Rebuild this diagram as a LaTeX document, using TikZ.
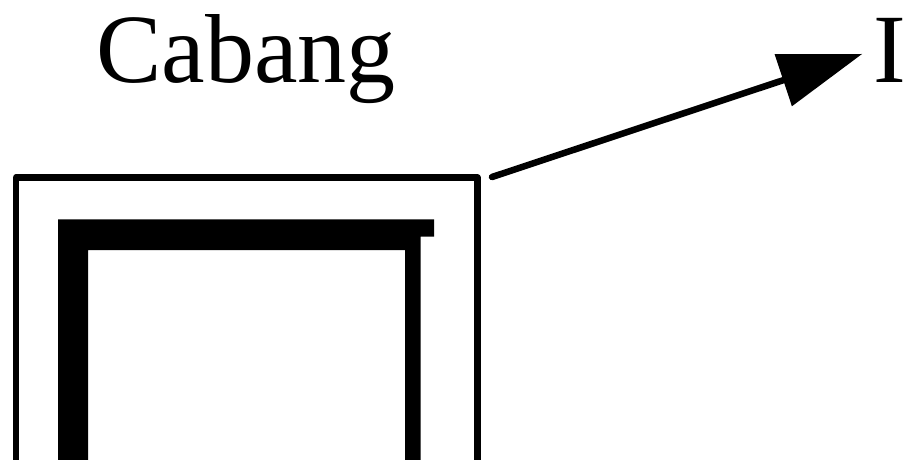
\documentclass[tikz,border=0pt]{standalone}
\usepackage{fontspec}
\setmainfont{Liberation Serif}
\usetikzlibrary{arrows.meta}
\tikzset{
  bigtext/.style={anchor=base west, inner sep=0pt, font=\fontsize{98}{100}\selectfont},
  frameline/.style={line width=6.5pt, line join=round},
  pointer/.style={line width=6.5pt, line cap=round, -{Triangle[length=83pt, width=55pt, line width=0pt]}},
  solidpart/.style={fill=black}
}
\begin{document}
\begin{tikzpicture}[x=1pt, y=-1pt]
  \useasboundingbox (0,0) rectangle (906,460);
  \clip (0,0) rectangle (906,460);
  \fill[white] (0,0) rectangle (906,460);
  % labels
  \node[bigtext] (cab) at (96,83) {Cabang};
  \node[bigtext] (ind) at (873,83) {I};
  % outer frame
  \draw[frameline] (16,480) -- (16,177.5) -- (477.5,177.5) -- (477.5,480);
  % thick inner bracket
  \fill[solidpart] (58,219.3) -- (434,219.3) -- (434,236.5) -- (420.5,236.5)
     -- (420.5,480) -- (405,480) -- (405,250) -- (88,250) -- (88,480)
     -- (58,480) -- cycle;
  % arrow
  \coordinate (src) at (492,177);
  \coordinate (tip) at (862,54);
  \draw[pointer] (src) -- (tip);
\end{tikzpicture}
\end{document}
